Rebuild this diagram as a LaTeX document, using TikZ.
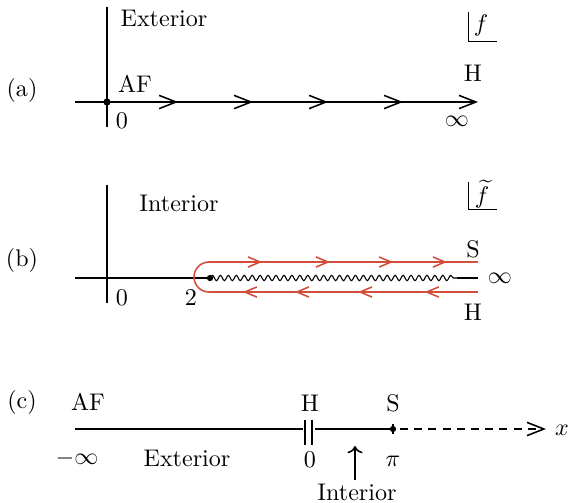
\documentclass[tikz,border=0pt]{standalone}
\usetikzlibrary{arrows.meta, decorations.pathmorphing, decorations.markings}
\definecolor{contour}{RGB}{210,78,58}

\begin{document}
\begin{tikzpicture}[x=0.0146cm, y=-0.0146cm, line width=0.65pt,
  dot/.style={circle, fill, inner sep=0pt, minimum size=3pt},
  lbl/.style={inner sep=1pt},
  chev/.tip={Straight Barb[length=7pt, width=5.5pt]},
  rchev/.tip={Straight Barb[length=5pt, width=4.2pt]}]

  \useasboundingbox (0,0) rectangle (569,503);

  % (a) exterior
  \node[lbl] (pa) at (22,90) {(a)};
  \coordinate (a-top) at (107,7);
  \coordinate (a-bot) at (107,127);
  \coordinate (a-left) at (75,102);
  \coordinate (a-right) at (478,102);
  \draw (a-top) -- (a-bot);
  \draw[-chev, postaction={decorate},
        decoration={markings,
          mark=at position 0.256 with {\arrow{chev}},
          mark=at position 0.442 with {\arrow{chev}},
          mark=at position 0.628 with {\arrow{chev}},
          mark=at position 0.814 with {\arrow{chev}}}]
    (a-left) -- (a-right);
  \node[dot] (af) at (107,102) {};
  \node[lbl] (ext) at (164,18) {Exterior};
  \node[lbl] (aflbl) at (135,84) {AF};
  \node[lbl] (zero-a) at (122,121) {$0$};
  \node[lbl] (h-a) at (473,73) {H};
  \node[lbl] (inf-a) at (457,121) {$\infty$};
  \coordinate (fa-top) at (468,12);
  \coordinate (fa-corner) at (468,41);
  \coordinate (fa-right) at (497,41);
  \draw[line width=0.4pt] (fa-top) -- (fa-corner) -- (fa-right);
  \node[lbl] (fa) at (481,25) {$f$};

  % (b) interior
  \node[lbl] (pb) at (22,260) {(b)};
  \coordinate (b-top) at (107,185);
  \coordinate (b-bot) at (107,303);
  \coordinate (b-left) at (75,278);
  \coordinate (b-cut) at (210,278);
  \coordinate (b-wend) at (457,278);
  \coordinate (b-right) at (478,278);
  \draw (b-top) -- (b-bot);
  \draw (b-left) -- (b-cut);
  \draw[line width=0.45pt, decorate,
        decoration={snake, amplitude=1.1pt, segment length=3.3pt}]
    (b-cut) -- (b-wend);
  \draw (b-wend) -- (b-right);
  \node[dot, minimum size=2.6pt] (branch) at (b-cut) {};
  \draw[contour, postaction={decorate},
        decoration={markings,
          mark=at position 0.091 with {\arrow{rchev}},
          mark=at position 0.205 with {\arrow{rchev}},
          mark=at position 0.313 with {\arrow{rchev}},
          mark=at position 0.402 with {\arrow{rchev}},
          mark=at position 0.631 with {\arrow{rchev}},
          mark=at position 0.747 with {\arrow{rchev}},
          mark=at position 0.855 with {\arrow{rchev}},
          mark=at position 0.947 with {\arrow{rchev}}}]
    (478,292) -- (209,292) arc[start angle=90, end angle=270, radius=15]
    -- (478,262);
  \node[lbl] (int-b) at (179,203) {Interior};
  \node[lbl] (zero-b) at (122,298) {$0$};
  \node[lbl] (two-b) at (191,298) {$2$};
  \node[lbl] (s-b) at (473,249) {S};
  \node[lbl] (h-b) at (473,312) {H};
  \node[lbl] (inf-b) at (500,278) {$\infty$};
  \coordinate (fb-top) at (468,182);
  \coordinate (fb-corner) at (468,209);
  \coordinate (fb-right) at (497,209);
  \draw[line width=0.4pt] (fb-top) -- (fb-corner) -- (fb-right);
  \node[inner sep=0pt] (fb) at (482,194) {$\widetilde{f}$};

  % (c) tortoise coordinate
  \node[lbl] (pc) at (22,402) {(c)};
  \coordinate (c-left) at (75,429);
  \coordinate (c-hl) at (303,429);
  \coordinate (c-hr) at (315,429);
  \coordinate (c-s) at (393,429);
  \coordinate (c-dash) at (400,429);
  \coordinate (c-right) at (546,429);
  \draw (c-left) -- (c-hl);
  \draw (c-hr) -- (c-s);
  \draw (305,420) -- (305,445) (312,420) -- (312,445);
  \draw (393,424) -- (393,434);
  \node[dot, minimum size=2.6pt] (sing) at (c-s) {};
  \draw[dash pattern=on 3.3pt off 2.6pt, -chev] (c-dash) -- (c-right);
  \node[lbl] (xlbl) at (562,430) {$x$};
  \node[lbl] (af-c) at (88,402) {AF};
  \node[lbl] (minf) at (77,458) {$-\infty$};
  \node[lbl] (ext-c) at (187,458) {Exterior};
  \node[lbl] (h-c) at (310,403) {H};
  \node[lbl] (zero-c) at (310,460) {$0$};
  \node[lbl] (s-c) at (393,403) {S};
  \node[lbl] (pi-c) at (393,461) {$\pi$};
  \node[lbl] (int-c) at (357,492) {Interior};
  \coordinate (int-tip) at (355,446);
  \draw[-{To[length=3pt]}] (int-c.north -| int-tip) -- (int-tip);

\end{tikzpicture}
\end{document}
